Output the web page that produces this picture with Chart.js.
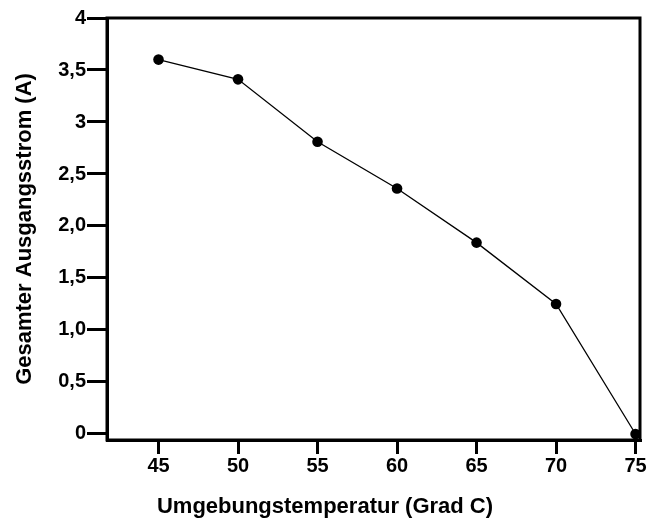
<!DOCTYPE html>
<html>
<head>
<meta charset="utf-8">
<script src="https://cdn.jsdelivr.net/npm/chart.js@4"></script>
<style>
html,body{margin:0;padding:0;background:#fff;}
canvas{display:block;}
</style>
</head>
<body>
<canvas id="c" width="656" height="521"></canvas>
<script>
// Data
const temperatures = [45, 50, 55, 60, 65, 70, 75];
const currents = [3.6, 3.41, 2.81, 2.36, 1.84, 1.25, 0];
const xTickValues = [45, 50, 55, 60, 65, 70, 75];
const yTickValues = [0, 0.5, 1, 1.5, 2, 2.5, 3, 3.5, 4];
const yTickLabels = ['0', '0,5', '1,0', '1,5', '2,0', '2,5', '3', '3,5', '4'];
const xTitle = 'Umgebungstemperatur (Grad C)';
const yTitle = 'Gesamter Ausgangsstrom (A)';

Chart.defaults.font.family = "'Liberation Sans', Arial, sans-serif";
Chart.defaults.color = '#000';

const points = temperatures.map((t, i) => ({ x: t, y: currents[i] }));

const boxPlugin = {
  id: 'boxPlugin',
  beforeDatasetsDraw(chart) {
    const a = chart.chartArea;
    const ctx = chart.ctx;
    ctx.save();
    ctx.strokeStyle = '#000';
    ctx.lineWidth = 3;
    ctx.strokeRect(a.left, a.top, a.right - a.left, a.bottom - a.top);
    ctx.restore();
  }
};

new Chart(document.getElementById('c'), {
  type: 'scatter',
  data: {
    datasets: [{
      data: points,
      showLine: true,
      borderColor: '#000',
      borderWidth: 1.3,
      pointRadius: 5.3,
      pointBackgroundColor: '#000',
      pointBorderWidth: 0,
      clip: false
    }]
  },
  options: {
    responsive: false,
    devicePixelRatio: 1,
    animation: false,
    layout: { padding: { left: 10, right: 16, top: 18, bottom: 0 } },
    plugins: {
      legend: { display: false },
      tooltip: { enabled: false },
      title: {
        display: true,
        text: xTitle,
        position: 'bottom',
        color: '#000',
        font: { size: 22, weight: 'bold', lineHeight: 1.0 },
        padding: { top: 6, bottom: 3 }
      }
    },
    scales: {
      x: {
        type: 'linear',
        min: 41.76,
        max: 75.28,
        afterBuildTicks: s => { s.ticks = xTickValues.map(v => ({ value: v })); },
        afterFit: s => { s.height = 50; },
        ticks: {
          color: '#000',
          font: { size: 20, weight: 'bold' },
          padding: 0,
          maxRotation: 0,
          autoSkip: false,
          callback: v => String(v)
        },
        grid: {
          drawOnChartArea: false,
          drawTicks: true,
          tickLength: 14,
          color: '#000',
          lineWidth: 3
        },
        border: { display: true, color: '#000', width: 3 }
      },
      y: {
        type: 'linear',
        min: -0.058,
        max: 4,
        afterBuildTicks: s => { s.ticks = yTickValues.map(v => ({ value: v })); },
        afterFit: s => { s.width = 97; },
        ticks: {
          color: '#000',
          font: { size: 20, weight: 'bold' },
          padding: 1,
          autoSkip: false,
          callback: v => {
            const i = yTickValues.indexOf(v);
            return i >= 0 ? yTickLabels[i] : '';
          }
        },
        grid: {
          drawOnChartArea: false,
          drawTicks: true,
          tickLength: 20,
          color: '#000',
          lineWidth: 3
        },
        border: { display: true, color: '#000', width: 3 },
        title: {
          display: true,
          text: yTitle,
          color: '#000',
          font: { size: 22, weight: 'bold' },
          padding: { top: 2, bottom: 0 }
        }
      }
    }
  },
  plugins: [boxPlugin]
});
</script>
</body>
</html>
